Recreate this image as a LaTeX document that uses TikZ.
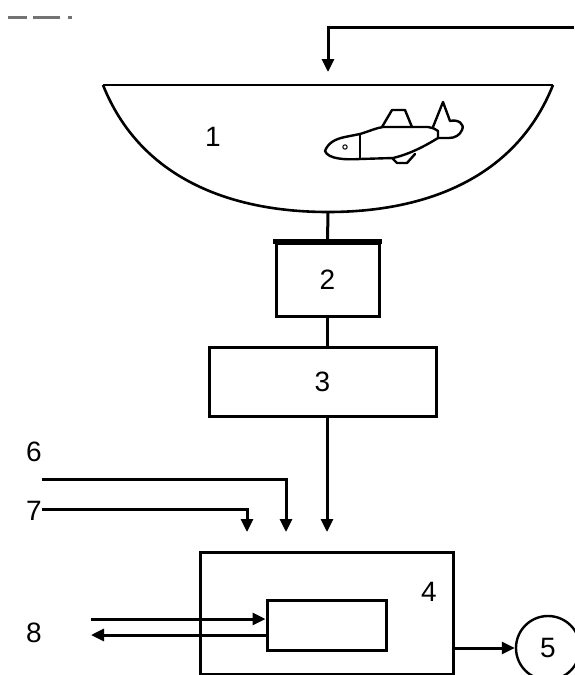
\documentclass[tikz,border=0pt]{standalone}
\usepackage{fontspec}
\setmainfont{Liberation Sans}
\usetikzlibrary{arrows.meta}
\begin{document}
\begin{tikzpicture}[x=1pt,y=-1pt,
  line join=miter,
  wire/.style={line width=3pt},
  flow/.style={wire,-{Triangle[length=13pt,width=12pt]}},
  unit/.style={draw,line width=3pt,rectangle,inner sep=0pt},
  lbl/.style={font=\fontsize{28}{32}\selectfont},
  fishline/.style={line width=2.4pt,line join=round,line cap=round}]
\useasboundingbox (0,0) rectangle (574,675);

% cut-off caption fragment at the top left
\fill[black!55] (8,16) rectangle (27,18.5);
\fill[black!55] (33,16) rectangle (60,18.5);
\fill[black!55] (68,16) rectangle (72,18.5);

% tank (1)
\draw[line width=2.6pt] (103,85) -- (553,85);
\draw[line width=2.6pt] (103,85) .. controls (140,178) and (230,212) .. (328,212)
                         .. controls (426,212) and (516,178) .. (553,85);
\coordinate (tanktop) at (328,72);
\coordinate (tankbot) at (328,212);
\coordinate (feedin) at (574,27);
\node[lbl] (l1) at (213,137) {1};

% fish body
\draw[fishline] (325,151) .. controls (328,143) and (335,139) .. (345,137)
   -- (360,134)
   .. controls (370,131) and (376,128) .. (383,127)
   -- (428,127) .. controls (433,128) and (436,129) .. (438,131)
   -- (438,138)
   .. controls (425,146) and (410,154) .. (393,158)
   -- (360,159)
   .. controls (345,160) and (328,159) .. (325,151) -- cycle;
% gill line and eye
\draw[fishline] (360,135) -- (360,159);
\draw[line width=1pt] (345,147) circle (2.2);
% dorsal fin
\draw[fishline] (382,127) -- (392,110) -- (405,110) -- (412,127);
% ventral fin
\draw[fishline] (392,158) -- (397,163) -- (407,163) -- (415,154);
% tail
\draw[fishline] (433,127) -- (443,102) -- (450,121)
   .. controls (458,119) and (465,124) .. (462,130)
   .. controls (460,135) and (455,138) .. (449,138) -- (438,138);

% units 2, 3, 4 and the inner block
\node[unit,minimum width=103pt,minimum height=73pt] (u2) at (327.5,279.5) {};
\draw[line width=5pt] ([xshift=-1.5pt]u2.north west) -- ([xshift=1.5pt]u2.north east);
\node[lbl] (l2) at (u2) {2};
\node[unit,minimum width=227pt,minimum height=69pt] (u3) at (322.5,381.5) {};
\node[lbl] (l3) at (u3) {3};
\node[unit,minimum width=253pt,minimum height=122pt] (u4) at (327,613) {};
\node[lbl] (l4) at (429,592) {4};
\node[unit,minimum width=119pt,minimum height=50pt] (u4in) at (326.5,625) {};
\node[draw,circle,line width=2.4pt,minimum size=64pt,inner sep=0pt] (u5) at (548,648) {};
\node[lbl] (l5) at (u5) {5};

% inputs 6, 7, 8
\node[lbl] (l6) at (34,452) {6};
\node[lbl] (l7) at (34,511) {7};
\node[lbl] (l8) at (34,633) {8};
\coordinate (s6) at (42,479);
\coordinate (s7) at (42,509);
\coordinate (e6) at (286,532);
\coordinate (e7) at (247,532);
\coordinate (e3) at (327,532);
\coordinate (s8) at (91,619);
\coordinate (r8) at (91,635);

% connections
\draw[flow] (feedin) -| (tanktop);
\draw[wire] (tankbot) -- (u2.north);
\draw[wire] (u2.south) -- ([xshift=5pt]u3.north);
\draw[flow] ([xshift=4.5pt]u3.south) -- (e3);
\draw[flow] (s6) -| (e6);
\draw[flow] (s7) -| (e7);
\draw[flow] (s8) -- (s8 -| u4in.west);
\draw[flow] (r8 -| u4in.west) -- (r8);
\draw[flow] (u4.east |- u5.west) -- (u5.west);
\end{tikzpicture}
\end{document}
